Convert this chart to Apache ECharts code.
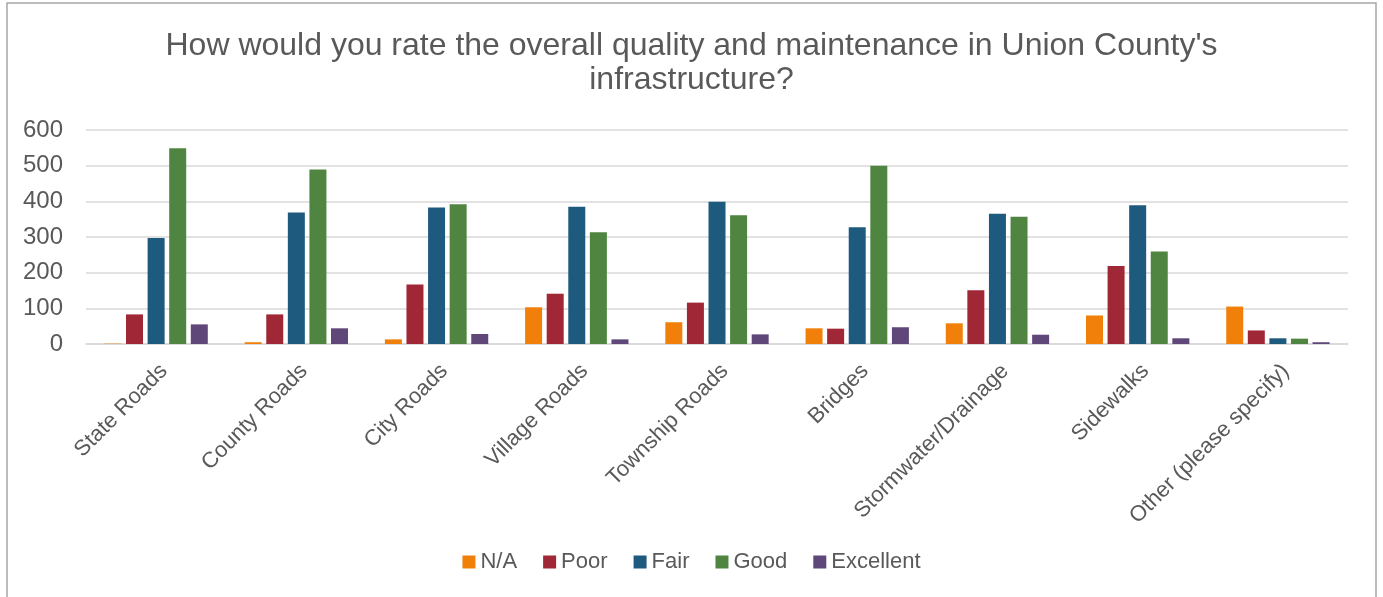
<!DOCTYPE html>
<html>
<head>
<meta charset="utf-8">
<script src="https://cdn.jsdelivr.net/npm/echarts@6/dist/echarts.min.js"></script>
<style>
html,body{margin:0;padding:0;background:#fff;}
#chart{width:1383px;height:597px;}
</style>
</head>
<body>
<div id="chart"></div>
<script>
const titleText = "How would you rate the overall quality and maintenance in Union County's\ninfrastructure?";
const categories = ["State Roads", "County Roads", "City Roads", "Village Roads", "Township Roads", "Bridges", "Stormwater/Drainage", "Sidewalks", "Other (please specify)"];
const seriesNames = ["N/A", "Poor", "Fair", "Good", "Excellent"];
const naValues = [1, 5, 13, 103, 61, 44, 58, 80, 105];
const poorValues = [83, 83, 167, 141, 116, 43, 151, 219, 38];
const fairValues = [297, 369, 383, 385, 399, 327, 365, 389, 16];
const goodValues = [549, 489, 392, 313, 361, 500, 357, 259, 15];
const excellentValues = [55, 44, 28, 13, 27, 47, 26, 16, 5];
const yTicks = [0, 100, 200, 300, 400, 500, 600];

const colors = ["#F0800A", "#A02736", "#1E5A7E", "#4F8541", "#5F4879"];
const allValues = [naValues, poorValues, fairValues, goodValues, excellentValues];

const chart = echarts.init(document.getElementById('chart'));
const font = "'Liberation Sans', Arial, sans-serif";
chart.setOption({
  animation: false,
  backgroundColor: '#fff',
  color: colors,
  title: {
    text: titleText,
    left: 'center',
    top: 24,
    textStyle: {fontFamily: font, fontSize: 32, fontWeight: 'normal', color: '#595959', lineHeight: 34}
  },
  legend: {
    data: seriesNames,
    top: 546,
    left: 'center',
    icon: 'rect',
    itemWidth: 13,
    itemHeight: 13,
    itemGap: 26,
    textStyle: {fontFamily: font, fontSize: 22, color: '#595959'}
  },
  grid: {left: 86, right: 35, top: 130, bottom: 253},
  xAxis: {
    type: 'category',
    data: categories,
    axisLine: {lineStyle: {color: '#d9d9d9', width: 1.5}},
    axisTick: {show: false},
    axisLabel: {
      interval: 0,
      rotate: 45,
      margin: 16,
      verticalAlign: 'top',
      fontFamily: font,
      fontSize: 22,
      color: '#595959'
    }
  },
  yAxis: {
    type: 'value',
    min: yTicks[0],
    max: yTicks[yTicks.length - 1],
    interval: 100,
    axisLine: {show: false},
    axisTick: {show: false},
    splitLine: {lineStyle: {color: '#d9d9d9', width: 1.5}},
    axisLabel: {fontFamily: font, fontSize: 24, color: '#595959', margin: 23}
  },
  graphic: [{
    type: 'rect',
    shape: {x: 7, y: 3, width: 1369, height: 610},
    style: {fill: 'none', stroke: '#a6a6a6', lineWidth: 1.5},
    silent: true
  }],
  series: seriesNames.map((n, i) => ({
    name: n,
    type: 'bar',
    data: allValues[i],
    barWidth: 17,
    barGap: '27%',
    itemStyle: {color: colors[i]}
  }))
});
</script>
</body>
</html>
